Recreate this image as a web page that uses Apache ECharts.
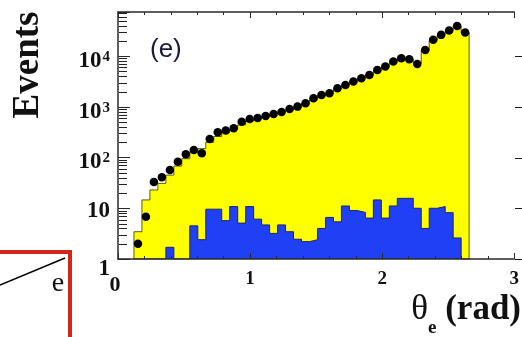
<!DOCTYPE html>
<html><head><meta charset="utf-8">
<script src="https://cdn.jsdelivr.net/npm/echarts@6/dist/echarts.min.js"></script>
<style>html,body{margin:0;padding:0;background:#fff}#c{width:522px;height:337px}</style>
</head><body><div id="c"></div>
<script>
// Histogram binning (theta_e in rad)
const binWidth = Math.PI / 52;
const firstBin = 2;
// Data points (black dots), one per bin
const dataEvents = [2.0, 6.8, 33, 41, 57, 83, 116, 141, 122, 233, 315, 340, 380, 510, 577, 604, 661, 724, 794, 909,
  1009, 1178, 1479, 1718, 1855, 2328, 2704, 3142, 3664, 4256, 5345, 6209, 7794, 9094, 8690, 7016, 13250, 20900, 26200, 31800, 39400, 29100];
// Total MC (yellow)
const mcTotal = [3.45, 14.6, 23, 31, 45, 68, 95, 125, 150, 200, 260, 310, 360, 440, 520, 590, 650, 720, 790, 880,
  990, 1150, 1400, 1650, 1850, 2250, 2650, 3100, 3600, 4200, 5200, 6100, 7600, 8900, 8700, 7100, 13000, 20500, 26000, 31500, 39000, 29000];
// Background MC (blue)
const mcBackground = [0, 0, 0, 0, 1.7, 0, 0, 4.5, 2.4, 9.6, 9.6, 5.7, 10.8, 5.1, 10.8, 6.1, 4.7, 3.2, 4.7, 3.45,
  2.45, 2.2, 2.4, 4.0, 6.6, 5.4, 11.1, 9.0, 8.3, 6.4, 14.6, 6.4, 11.1, 15.7, 15.7, 10, 4.0, 10, 10.8, 8.2, 2.6, 0];
const xTickValues = [0, 1, 2, 3];
const yMajorTicks = [1, 10, 100, 1000, 10000];
const yMinorTicks = [2,3,4,5,6,7,8,9,20,30,40,50,60,70,80,90,200,300,400,500,600,700,800,900,
  2000,3000,4000,5000,6000,7000,8000,9000,20000,30000,40000,50000,60000,70000];
const yMin = 1, yMax = 74000;
const gridLeft = 118;

function stepData(vals) {
  const pts = [];
  const e0 = firstBin * binWidth;
  pts.push([e0, yMin]);
  vals.forEach((v, i) => pts.push([(firstBin + i) * binWidth, Math.max(v, yMin)]));
  const eEnd = (firstBin + vals.length) * binWidth;
  pts.push([eEnd, Math.max(vals[vals.length - 1], yMin)]);
  pts.push([eEnd, yMin]);
  return pts;
}
const centers = dataEvents.map((v, i) => [(firstBin + i + 0.5) * binWidth, v]);

const chart = echarts.init(document.getElementById('c'), null, {renderer: 'canvas'});
const axisColor = '#2a2a2a';
const labelFont = {fontFamily: 'Liberation Serif', fontWeight: 'bold', color: '#111'};

const baseGraphics = [
  {type: 'text', x: 28, y: 65, rotation: Math.PI / 2,
    style: {text: 'Events', font: 'bold 37px "Liberation Serif"', fill: '#111', align: 'center', verticalAlign: 'middle'}},
  {type: 'text', x: 521, y: 315,
    style: {text: '{t|θ}{e|e}{r| (rad)}', align: 'right', verticalAlign: 'middle', fill: '#111',
      rich: {
        t: {font: '35px "Liberation Serif"', padding: [0, 0, 11, 0], fill: '#111'},
        e: {font: 'bold 19px "Liberation Serif"', verticalAlign: 'bottom', fill: '#111'},
        r: {font: 'bold 35px "Liberation Serif"', padding: [0, 0, 11, 0], fill: '#111'}
      }}},
  {type: 'text', x: 150, y: 50,
    style: {text: '(e)', font: '26px "Liberation Sans"', fill: '#1a1a3a', verticalAlign: 'middle'}},
  {type: 'polyline', shape: {points: [[0, 252], [70, 252], [70, 337]]},
    style: {stroke: '#d0261c', lineWidth: 4, fill: null}},
  {type: 'line', shape: {x1: 0, y1: 285, x2: 65, y2: 258}, style: {stroke: '#000', lineWidth: 1.5}},
  {type: 'text', x: 58, y: 284,
    style: {text: 'e', font: '28px "Liberation Serif"', fill: '#111', align: 'center', verticalAlign: 'middle'}}
];

chart.setOption({
  animation: false,
  backgroundColor: '#fff',
  grid: {left: gridLeft, right: -2, top: 12, bottom: 78, containLabel: false},
  xAxis: [{
    type: 'value', min: 0, max: 3, interval: 1, position: 'bottom', z: 10,
    axisLine: {show: true, lineStyle: {color: axisColor, width: 1.5}},
    axisTick: {show: true, inside: true, length: 6, lineStyle: {color: axisColor}},
    minorTick: {show: true, splitNumber: 5, length: 3, lineStyle: {color: axisColor}},
    splitLine: {show: false},
    axisLabel: Object.assign({fontSize: 19, margin: 11, showMinLabel: true, showMaxLabel: true, hideOverlap: false,
      formatter: v => v === 0 ? '{z|0}' : (xTickValues.indexOf(v) >= 0 ? String(v) : ''),
      rich: {z: Object.assign({fontSize: 22, padding: [4, 6, 0, 0]}, labelFont)}}, labelFont)
  }, {
    type: 'value', min: 0, max: 3, interval: 1, position: 'top', z: 10,
    axisLine: {show: true, lineStyle: {color: axisColor, width: 1.5}},
    axisTick: {show: true, inside: true, length: 6, lineStyle: {color: axisColor}},
    minorTick: {show: true, splitNumber: 5, length: 3, lineStyle: {color: axisColor}},
    splitLine: {show: false}, axisLabel: {show: false}
  }],
  yAxis: [{
    type: 'log', logBase: 10, min: yMin, max: yMax, z: 10,
    axisLine: {show: true, lineStyle: {color: axisColor, width: 1.5}},
    axisTick: {show: true, inside: true, length: 12, lineStyle: {color: axisColor}},
    splitLine: {show: false},
    axisLabel: {
      margin: 8, showMinLabel: true, hideOverlap: false,
      formatter: v => {
        const l = Math.log10(v), e = Math.round(l);
        if (Math.abs(l - e) > 1e-6 || yMajorTicks.indexOf(Math.pow(10, e)) < 0) return '';
        if (e === 0) return '{one|1}';
        if (e === 1) return '{ten|10}';
        return '{b|10}{s|' + e + '}';
      },
      rich: {
        one: Object.assign({fontSize: 23, lineHeight: 23, padding: [20, 0, 0, 0]}, labelFont),
        ten: Object.assign({fontSize: 23, lineHeight: 23, padding: [6, 0, 0, 0]}, labelFont),
        b: Object.assign({fontSize: 23, lineHeight: 23, padding: [10, 0, 0, 0]}, labelFont),
        s: Object.assign({fontSize: 15, lineHeight: 15, verticalAlign: 'top', padding: [5, 0, 0, 1]}, labelFont)
      }
    }
  }],
  series: [
    {
      name: 'MC total', type: 'line', step: 'end', data: stepData(mcTotal), symbol: 'none', z: 2,
      lineStyle: {color: '#5a5a10', width: 1}, areaStyle: {color: '#ffff00', opacity: 1, origin: 'start'}
    },
    {
      name: 'Background', type: 'line', step: 'end', data: stepData(mcBackground), symbol: 'none', z: 3,
      lineStyle: {color: '#1a2270', width: 1}, areaStyle: {color: '#1f40f5', opacity: 1, origin: 'start'}
    },
    {
      name: 'Data', type: 'scatter', data: centers, symbol: 'circle', symbolSize: 8.5, z: 5,
      itemStyle: {color: '#000', opacity: 1}
    }
  ],
  graphic: baseGraphics
});

// Log minor ticks (2..9 per decade) on the left axis, and the neighbouring panel's decade ticks at the right edge,
// positioned through the chart's own log scale.
const W = chart.getWidth();
const tickGraphics = [];
yMinorTicks.forEach(v => {
  const y = Math.round(chart.convertToPixel({yAxisIndex: 0}, v)) + 0.5;
  tickGraphics.push({type: 'line', z: 100, silent: true, shape: {x1: gridLeft + 1, y1: y, x2: gridLeft + 9, y2: y},
    style: {stroke: '#222', lineWidth: 1}});
});
yMajorTicks.forEach(v => {
  const y = Math.round(chart.convertToPixel({yAxisIndex: 0}, v)) + 0.5;
  tickGraphics.push({type: 'line', z: 100, silent: true, shape: {x1: W - 7, y1: y, x2: W, y2: y},
    style: {stroke: '#1a1a1a', lineWidth: 1}});
});
chart.setOption({graphic: baseGraphics.concat(tickGraphics)});
</script></body></html>
